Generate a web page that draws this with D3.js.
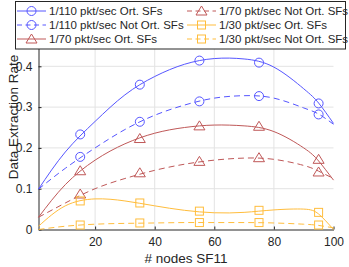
<!DOCTYPE html>
<html>
<head>
<meta charset="utf-8">
<script src="https://cdn.jsdelivr.net/npm/d3@7"></script>
<style>
  body { margin: 0; background: #fff; }
  text { font-family: "Liberation Sans", Arial, sans-serif; }
</style>
</head>
<body>
<script>
// measured points (markers)
const nodes = [15, 35, 55, 75, 95];
const ort110 = [0.233, 0.355, 0.414, 0.409, 0.309];
const not110 = [0.178, 0.264, 0.314, 0.327, 0.282];
const ort70 = [0.144, 0.223, 0.254, 0.253, 0.172];
const not70 = [0.087, 0.139, 0.167, 0.176, 0.141];
const ort30 = [0.070, 0.065, 0.045, 0.047, 0.042];
const not30 = [0.011, 0.016, 0.017, 0.017, 0.011];

// fitted curves
const fitX = [1, 10, 20, 30, 40, 50, 60, 70, 80, 90, 95, 100];
const fitOrt110 = [0.099, 0.19, 0.265, 0.33, 0.375, 0.405, 0.419, 0.418, 0.398, 0.345, 0.31, 0.26];
const fitNot110 = [0.099, 0.15, 0.2, 0.245, 0.28, 0.305, 0.322, 0.328, 0.322, 0.298, 0.283, 0.258];
const fitOrt70 = [0.03, 0.11, 0.17, 0.21, 0.236, 0.25, 0.256, 0.254, 0.24, 0.2, 0.168, 0.121];
const fitNot70 = [0.03, 0.065, 0.1, 0.125, 0.145, 0.16, 0.17, 0.175, 0.172, 0.157, 0.143, 0.125];
const fitOrt30 = [0.008, 0.058, 0.075, 0.07, 0.058, 0.047, 0.041, 0.042, 0.048, 0.05, 0.038, 0.0];
const fitNot30 = [0.0, 0.008, 0.013, 0.015, 0.016, 0.017, 0.017, 0.017, 0.016, 0.013, 0.01, 0.004];

const xTicks = [20, 40, 60, 80, 100];
const yTicks = [0, 0.1, 0.2, 0.3, 0.4, 0.5];

const series = [
  {name: "1/110 pkt/sec Ort. SFs", pts: ort110, fit: fitOrt110, color: "#5656ff", dash: null, marker: "circle"},
  {name: "1/110 pkt/sec Not Ort. SFs", pts: not110, fit: fitNot110, color: "#5656ff", dash: "6,4", marker: "circle"},
  {name: "1/70 pkt/sec Ort. SFs", pts: ort70, fit: fitOrt70, color: "#bf5858", dash: null, marker: "triangle"},
  {name: "1/70 pkt/sec Not Ort. SFs", pts: not70, fit: fitNot70, color: "#bf5858", dash: "6,4", marker: "triangle"},
  {name: "1/30 pkt/sec Ort. SFs", pts: ort30, fit: fitOrt30, color: "#ffbd3c", dash: null, marker: "square"},
  {name: "1/30 pkt/sec Not Ort. SFs", pts: not30, fit: fitNot30, color: "#ffbd3c", dash: "6,4", marker: "square"}
];

const W = 349, H = 267;
const svg = d3.select("body").append("svg")
    .attr("width", W)
    .attr("height", H);

const x = d3.scaleLinear().domain([1, 100]).range([38.5, 333.5]);
const y = d3.scaleLinear().domain([0, 0.55]).range([229.5, 5.1]);

// grid
svg.append("g").selectAll("line")
    .data(xTicks.slice(0, -1))
    .enter().append("line")
    .attr("x1", d => x(d)).attr("x2", d => x(d))
    .attr("y1", y(0)).attr("y2", y(0.55))
    .attr("stroke", "#e3e3e3");
svg.append("g").selectAll("line")
    .data(yTicks.slice(1))
    .enter().append("line")
    .attr("x1", x(1)).attr("x2", x(100))
    .attr("y1", d => y(d)).attr("y2", d => y(d))
    .attr("stroke", "#e3e3e3");

// axes
let xAxis = svg.append("g")
    .attr("transform", "translate(0," + y(0) + ")")
    .call(d3.axisBottom(x).tickValues(xTicks).tickSizeInner(-3).tickSizeOuter(0).tickPadding(8));
let yAxis = svg.append("g")
    .attr("transform", "translate(" + x(1) + ",0)")
    .call(d3.axisLeft(y).tickValues(yTicks).tickFormat(d => d === 0 ? "0" : d3.format(".1f")(d)).tickSizeInner(-3).tickSizeOuter(0).tickPadding(6));

[xAxis, yAxis].forEach(function (a) {
    a.select(".domain").attr("stroke", "#262626");
    a.selectAll(".tick line").attr("stroke", "#262626");
    a.selectAll(".tick text").attr("fill", "#262626").style("font-size", "12px")
        .style("font-family", "Liberation Sans, Arial, sans-serif");
});

svg.append("text")
    .attr("x", 186).attr("y", 263)
    .attr("text-anchor", "middle")
    .attr("fill", "#262626")
    .style("font-size", "13.5px")
    .text("# nodes SF11");

svg.append("text")
    .attr("transform", "translate(13,117) rotate(-90)")
    .attr("text-anchor", "middle")
    .attr("dy", "0.35em")
    .attr("fill", "#262626")
    .style("font-size", "13.5px")
    .text("Data Extraction Rate");

// curves + markers
const line = d3.line()
    .x(d => x(d[0]))
    .y(d => y(d[1]))
    .curve(d3.curveNatural);

function drawMarker(g, type, cx, cy, color) {
    if (type === "circle") {
        g.append("circle").attr("cx", cx).attr("cy", cy).attr("r", 4.5)
            .attr("fill", "none").attr("stroke", color);
    } else if (type === "triangle") {
        g.append("path")
            .attr("d", "M" + cx + "," + (cy - 5) + "L" + (cx + 5.5) + "," + (cy + 4) + "L" + (cx - 5.5) + "," + (cy + 4) + "Z")
            .attr("fill", "none").attr("stroke", color);
    } else {
        g.append("rect").attr("x", cx - 4).attr("y", cy - 4).attr("width", 8).attr("height", 8)
            .attr("fill", "none").attr("stroke", color);
    }
}

let plot = svg.append("g");
series.forEach(function (s) {
    plot.append("path")
        .datum(fitX.map((v, i) => [v, s.fit[i]]))
        .attr("d", line)
        .attr("fill", "none")
        .attr("stroke", s.color)
        .attr("stroke-width", 1)
        .attr("stroke-dasharray", s.dash);
    s.pts.forEach(function (v, i) {
        drawMarker(plot, s.marker, x(nodes[i]), y(v), s.color);
    });
});

// legend
let legend = svg.append("g");
legend.append("rect")
    .attr("x", 15.5).attr("y", 1.5)
    .attr("width", 330).attr("height", 47.5)
    .attr("fill", "#fff")
    .attr("stroke", "#262626")
    .attr("stroke-width", 1);

series.forEach(function (s, i) {
    let col = i < 3 ? 0 : 1;
    let row = i % 3;
    let lx = col === 0 ? 17 : 187;
    let ly = 11 + row * 14;
    let g = legend.append("g");
    g.append("line")
        .attr("x1", lx).attr("x2", lx + 29)
        .attr("y1", ly).attr("y2", ly)
        .attr("stroke", s.color)
        .attr("stroke-dasharray", s.dash ? "5,3.5" : null);
    drawMarker(g, s.marker, lx + 14.5, ly, s.color);
    g.append("text")
        .attr("x", lx + 32).attr("y", ly + 4)
        .attr("fill", "#262626")
        .style("font-size", "11.5px")
        .text(s.name);
});
</script>
</body>
</html>
